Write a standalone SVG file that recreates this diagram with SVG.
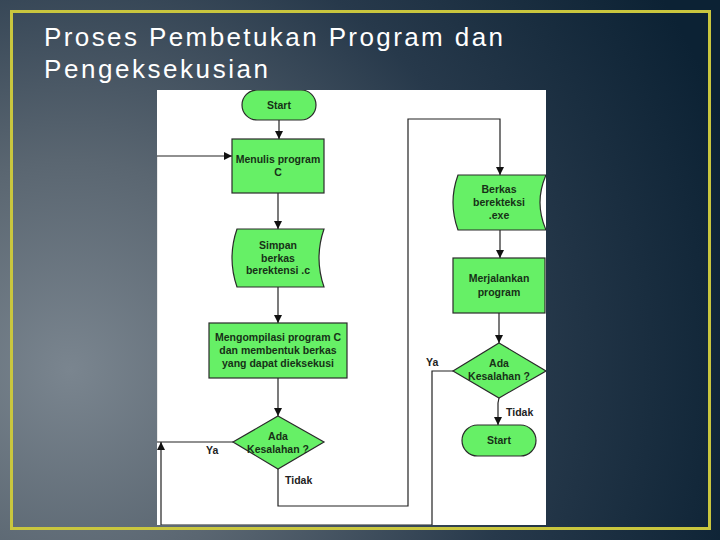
<svg xmlns="http://www.w3.org/2000/svg" width="720" height="540" viewBox="0 0 720 540">
  <defs>
    <radialGradient id="bg" cx="70" cy="370" r="700" gradientUnits="userSpaceOnUse">
      <stop offset="0" stop-color="#7a858f"/>
      <stop offset="0.3" stop-color="#5a6671"/>
      <stop offset="0.65" stop-color="#27394b"/>
      <stop offset="1" stop-color="#0c2234"/>
    </radialGradient>
    <clipPath id="panel">
      <rect x="157" y="90" width="389" height="435"/>
    </clipPath>
    <marker id="arr" viewBox="0 0 10 10" refX="10" refY="5" markerWidth="8" markerHeight="8" markerUnits="userSpaceOnUse" orient="auto">
      <path d="M0,0 L10,5 L0,10 Z" fill="#111"/>
    </marker>
    <style>
      .title { font-family: "Liberation Sans", Arial, sans-serif; font-size: 26px; fill: #ffffff; }
      .shape { fill: #66f066; stroke: #2a2a2a; stroke-width: 1.2; }
      .lbl { font-family: "Liberation Sans", Arial, sans-serif; font-size: 10.5px; font-weight: bold; fill: #173117; text-anchor: middle; }
      .edge { font-family: "Liberation Sans", Arial, sans-serif; font-size: 10.5px; font-weight: bold; fill: #222; }
      .line { fill: none; stroke: #222; stroke-width: 1.2; }
    </style>
  </defs>

  <rect x="0" y="0" width="720" height="540" fill="url(#bg)"/>
  <rect x="11.5" y="11.5" width="698" height="517" fill="none" stroke="#c9c63e" stroke-width="3"/>

  <text class="title" x="44" y="46" textLength="459" lengthAdjust="spacing">Proses Pembetukan Program dan</text>
  <text class="title" x="44" y="78" textLength="224" lengthAdjust="spacing">Pengeksekusian</text>

  <rect x="157" y="90" width="389" height="435" fill="#ffffff"/>

  <g clip-path="url(#panel)">
    <g id="connectors">
      <line class="line" x1="279" y1="120" x2="279" y2="139" marker-end="url(#arr)"/>
      <line class="line" x1="278" y1="193" x2="278" y2="229" marker-end="url(#arr)"/>
      <line class="line" x1="278" y1="287" x2="278" y2="323" marker-end="url(#arr)"/>
      <line class="line" x1="278" y1="378" x2="278" y2="416" marker-end="url(#arr)"/>
      <polyline class="line" points="278,469 278,506 408,506 408,119 500,119 500,175" marker-end="url(#arr)"/>
      <line class="line" x1="500" y1="230" x2="500" y2="258" marker-end="url(#arr)"/>
      <line class="line" x1="499" y1="313" x2="499" y2="343" marker-end="url(#arr)"/>
      <polyline class="line" points="499,398 498,403 498,425" marker-end="url(#arr)"/>
      <polyline class="line" points="453,371 432,371 432,525 161,525 161,442" marker-end="url(#arr)"/>
      <polyline class="line" points="233,442 156.5,442 156.5,156 232,156" marker-end="url(#arr)"/>
      <text class="edge" x="206" y="454">Ya</text>
      <text class="edge" x="285" y="484">Tidak</text>
      <text class="edge" x="426" y="366">Ya</text>
      <text class="edge" x="506" y="416">Tidak</text>
    </g>

    <g id="start">
      <rect class="shape" x="242" y="90" width="74" height="30" rx="15" ry="15"/>
      <text class="lbl" x="279" y="109">Start</text>
    </g>
    <g id="menulis">
      <rect class="shape" x="232" y="139" width="92" height="54"/>
      <text class="lbl" x="278" y="163">Menulis program</text>
      <text class="lbl" x="278" y="176">C</text>
    </g>
    <g id="simpan">
      <path class="shape" d="M237,229 L324,229 Q314,258 324,287 L237,287 Q227,258 237,229 Z"/>
      <text class="lbl" x="278" y="249">Simpan</text>
      <text class="lbl" x="278" y="262">berkas</text>
      <text class="lbl" x="278" y="274">berektensi .c</text>
    </g>
    <g id="kompilasi">
      <rect class="shape" x="209" y="323" width="138" height="55"/>
      <text class="lbl" x="278" y="341">Mengompilasi program C</text>
      <text class="lbl" x="278" y="354">dan membentuk berkas</text>
      <text class="lbl" x="278" y="367">yang dapat dieksekusi</text>
    </g>
    <g id="cek1">
      <path class="shape" d="M278,416 L324,442 L278,469 L233,442 Z"/>
      <text class="lbl" x="278" y="440">Ada</text>
      <text class="lbl" x="278" y="453">Kesalahan ?</text>
    </g>
    <g id="berkas">
      <path class="shape" d="M458,175 L546,175 Q534,202.5 546,230 L458,230 Q448,202.5 458,175 Z"/>
      <text class="lbl" x="499" y="193">Berkas</text>
      <text class="lbl" x="499" y="206">berekteksi</text>
      <text class="lbl" x="499" y="219">.exe</text>
    </g>
    <g id="jalankan">
      <rect class="shape" x="453" y="258" width="92" height="55"/>
      <text class="lbl" x="499" y="282">Merjalankan</text>
      <text class="lbl" x="499" y="296">program</text>
    </g>
    <g id="cek2">
      <path class="shape" d="M499,343 L546,371 L499,398 L453,371 Z"/>
      <text class="lbl" x="499" y="367">Ada</text>
      <text class="lbl" x="499" y="380">Kesalahan ?</text>
    </g>
    <g id="selesai">
      <rect class="shape" x="462" y="425" width="74" height="31" rx="15.5" ry="15.5"/>
      <text class="lbl" x="499" y="444">Start</text>
    </g>
  </g>
</svg>
